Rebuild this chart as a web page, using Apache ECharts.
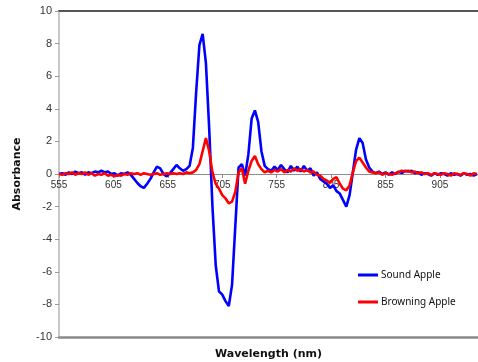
<!DOCTYPE html>
<html><head><meta charset="utf-8">
<script src="https://cdn.jsdelivr.net/npm/echarts@6/dist/echarts.min.js"></script>
<style>html,body{margin:0;padding:0;background:#fff}#c{width:478px;height:362px}</style>
</head><body><div id="c"></div>
<script>
const wavelengths = [
555,558,561,564,567,570,573,576,579,582,
585,588,591,594,597,600,603,606,609,612,
615,618,621,624,627,630,633,636,639,642,
645,648,651,654,657,660,663,666,669,672,
675,678,681,684,687,690,693,696,699,702,
705,708,711,714,717,720,723,726,729,732,
735,738,741,744,747,750,753,756,759,762,
765,768,771,774,777,780,783,786,789,792,
795,798,801,804,807,810,813,816,819,822,
825,828,831,834,837,840,843,846,849,852,
855,858,861,864,867,870,873,876,879,882,
885,888,891,894,897,900,903,906,909,912,
915,918,921,924,927,930,933,936,939];
const soundApple = [
0.0,0.05,-0.05,0.1,0.0,0.15,0.05,0.1,-0.05,0.1,
0.05,0.15,0.1,0.2,0.1,0.15,0.0,0.05,-0.1,0.05,
0.0,0.1,-0.05,-0.3,-0.55,-0.75,-0.85,-0.6,-0.3,0.1,
0.45,0.35,0.0,-0.15,0.05,0.3,0.55,0.35,0.2,0.3,
0.5,1.6,5.0,7.9,8.6,6.8,2.8,-2.0,-5.6,-7.2,
-7.4,-7.8,-8.1,-6.8,-3.2,0.4,0.6,-0.1,1.2,3.4,
3.9,3.2,1.4,0.5,0.3,0.2,0.45,0.25,0.55,0.3,
0.1,0.5,0.2,0.45,0.15,0.5,0.2,0.35,-0.1,0.1,
-0.3,-0.45,-0.6,-0.85,-0.7,-1.05,-1.2,-1.6,-2.0,-1.3,
0.1,1.5,2.2,1.9,0.9,0.4,0.15,0.05,0.15,0.0,
0.1,-0.05,0.1,0.0,0.15,0.05,0.2,0.15,0.2,0.05,
0.1,-0.05,0.05,0.0,-0.1,0.05,-0.05,0.05,0.0,-0.1,
0.05,-0.05,0.0,-0.1,0.05,-0.05,0.0,-0.1,0.0];
const browningApple = [
0.0,-0.05,0.05,0.0,0.1,-0.05,0.05,0.0,0.1,-0.05,
0.05,-0.1,0.0,-0.05,0.05,-0.1,-0.05,-0.15,-0.05,-0.1,
0.0,-0.05,0.05,0.0,0.05,-0.05,0.05,0.0,-0.05,0.0,
0.05,-0.05,0.0,0.05,0.0,0.05,0.0,0.05,0.0,0.1,
0.05,0.1,0.25,0.6,1.4,2.2,1.4,0.1,-0.6,-0.9,
-1.3,-1.5,-1.8,-1.7,-1.1,0.1,0.35,-0.6,0.2,0.8,
1.1,0.6,0.3,0.1,0.2,0.1,0.25,0.15,0.3,0.1,
0.25,0.15,0.35,0.2,0.3,0.15,0.25,0.1,0.15,-0.05,
-0.1,-0.3,-0.4,-0.55,-0.3,-0.2,-0.6,-0.9,-1.0,-0.7,
0.1,0.8,1.0,0.7,0.4,0.15,0.1,0.05,0.1,-0.05,
0.05,0.0,-0.05,0.05,0.1,0.2,0.15,0.2,0.1,0.15,
0.05,0.1,0.0,0.05,-0.05,0.05,0.0,-0.05,0.05,0.0,
-0.1,0.05,0.0,-0.05,0.05,0.0,-0.1,0.05,0.0];
const seriesNames = ['Sound Apple','Browning Apple'];
const xTitle = 'Wavelength (nm)';
const yTitle = 'Absorbance';
const yMin = -10, yMax = 10;

const chart = echarts.init(document.getElementById('c'), null, {renderer:'canvas'});
const pairs = arr => wavelengths.map((w,i)=>[w,arr[i]]);
const font = 'Liberation Sans, Arial, sans-serif';
const gridTop = 11, gridBottom = 25, H = 362;
const plotH = H - gridTop - gridBottom;
const zeroOffset = -plotH * (0 - yMin) / (yMax - yMin);
chart.setOption({
  animation:false,
  backgroundColor:'#fff',
  grid:{left:59,right:0,top:gridTop,bottom:gridBottom,containLabel:false,outerBoundsMode:'none'},
  legend:{
    orient:'vertical', left:353, top:265, itemGap:17, itemWidth:20, itemHeight:3, icon:'rect',
    data:seriesNames,
    textStyle:{fontFamily:'Noto Sans, DejaVu Sans, sans-serif', fontSize:10, color:'#111', padding:[0,0,0,-2]}
  },
  xAxis:[
    {type:'value', position:'bottom', offset:zeroOffset, min:555, max:940, interval:50,
     axisLine:{onZero:false, lineStyle:{color:'#8c8c8c', width:1}},
     axisTick:{show:true, length:4, lineStyle:{color:'#8c8c8c'}},
     axisLabel:{fontFamily:font, fontSize:10, color:'#333', margin:6, showMaxLabel:false},
     splitLine:{show:false}},
    {type:'value', position:'top', min:555, max:940, 
     axisLine:{show:true, onZero:false, lineStyle:{color:'#555', width:2}},
     axisTick:{show:false}, axisLabel:{show:false}, splitLine:{show:false}},
    {type:'value', position:'bottom', min:555, max:940, offset:0,
     axisLine:{show:true, onZero:false, lineStyle:{color:'#8a8a8a', width:2.5}},
     axisTick:{show:false}, axisLabel:{show:false}, splitLine:{show:false},
     name:xTitle, nameLocation:'middle', nameGap:12,
     nameTextStyle:{fontFamily:'DejaVu Sans, sans-serif', fontWeight:'bold', fontSize:11, color:'#111'}}
  ],
  yAxis:{type:'value', min:yMin, max:yMax, interval:2,
    axisLine:{show:true, onZero:false, lineStyle:{color:'#c8c8c8', width:2}},
    axisTick:{show:true, length:4, lineStyle:{color:'#999'}},
    axisLabel:{fontFamily:font, fontSize:11, color:'#333', margin:7},
    splitLine:{show:false},
    name:yTitle, nameLocation:'middle', nameGap:36,
    nameTextStyle:{fontFamily:'DejaVu Sans, sans-serif', fontWeight:'bold', fontSize:11, color:'#111'}},
  series:[
    {name:seriesNames[0], type:'line', data:pairs(soundApple), showSymbol:false, symbol:'none',
     lineStyle:{color:'#0000ff', width:2.6}, itemStyle:{color:'#0000ff'}, z:2},
    {name:seriesNames[1], type:'line', data:pairs(browningApple), showSymbol:false, symbol:'none',
     lineStyle:{color:'#ff0000', width:2.6}, itemStyle:{color:'#ff0000'}, z:3}
  ]
});
</script></body></html>
